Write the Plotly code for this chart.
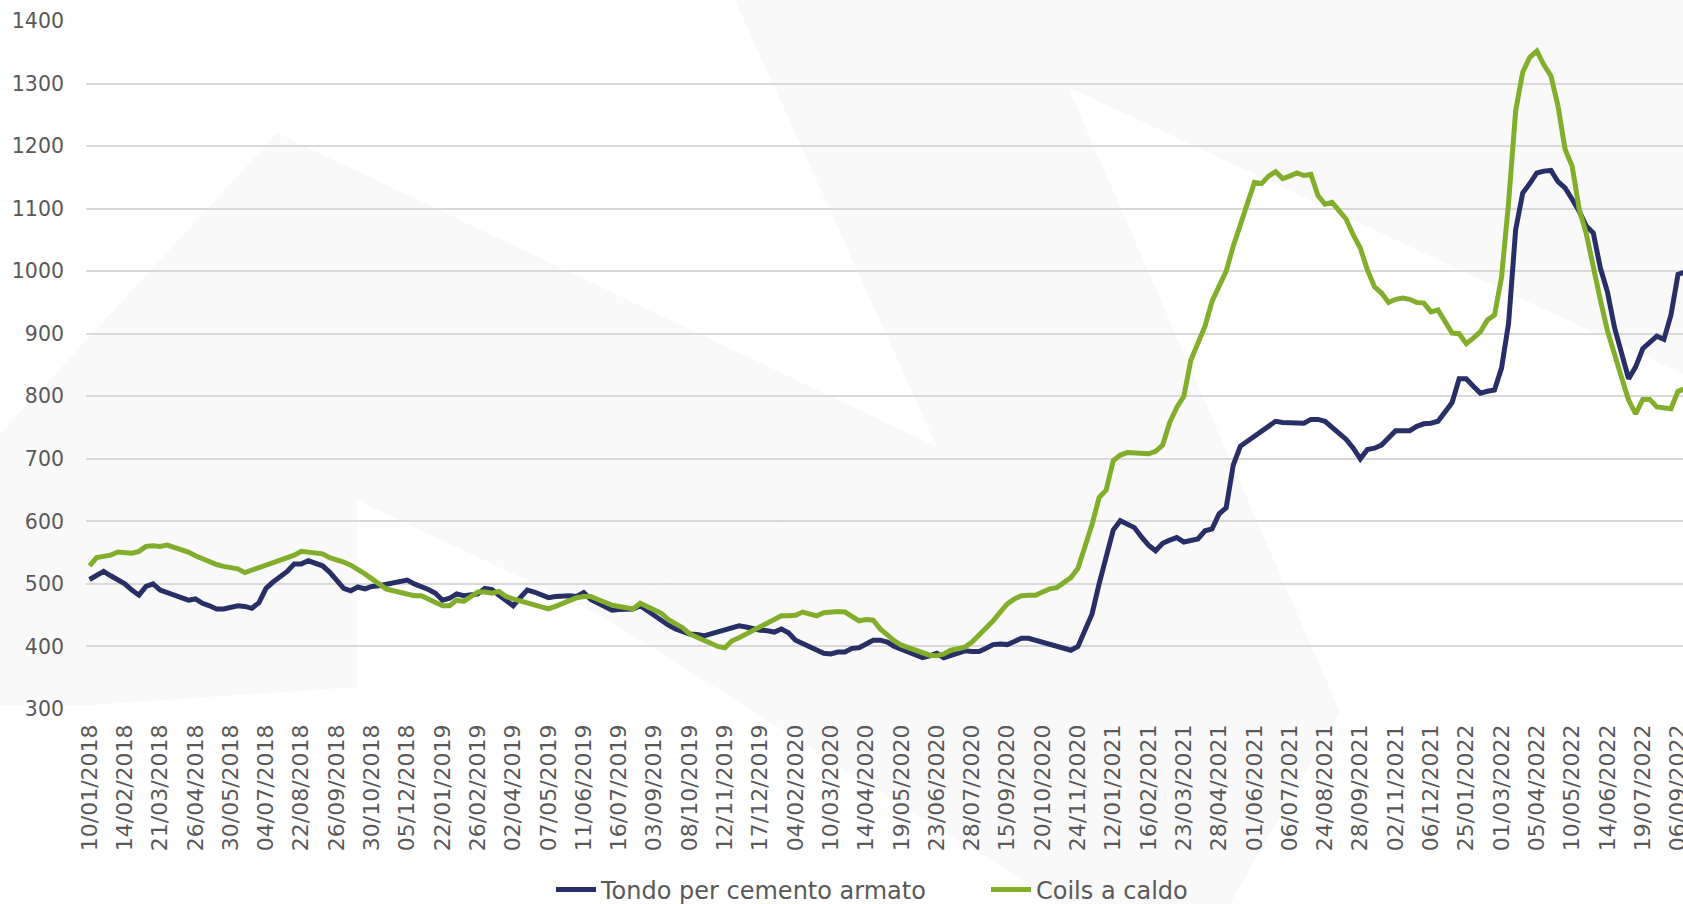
import plotly.graph_objects as go

tick_labels = [
    "10/01/2018", "14/02/2018", "21/03/2018", "26/04/2018", "30/05/2018", "04/07/2018",
    "22/08/2018", "26/09/2018", "30/10/2018", "05/12/2018", "22/01/2019", "26/02/2019",
    "02/04/2019", "07/05/2019", "11/06/2019", "16/07/2019", "03/09/2019", "08/10/2019",
    "12/11/2019", "17/12/2019", "04/02/2020", "10/03/2020", "14/04/2020", "19/05/2020",
    "23/06/2020", "28/07/2020", "15/09/2020", "20/10/2020", "24/11/2020", "12/01/2021",
    "16/02/2021", "23/03/2021", "28/04/2021", "01/06/2021", "06/07/2021", "24/08/2021",
    "28/09/2021", "02/11/2021", "06/12/2021", "25/01/2022", "01/03/2022", "05/04/2022",
    "10/05/2022", "14/06/2022", "19/07/2022", "06/09/2022",
]

tondo = [
    507, 514, 520, 513, 506, 500, 490, 482, 496, 500,
    490, 486, 481, 478, 474, 476, 469, 465, 460, 460,
    463, 465, 464, 461, 470, 493, 503, 511, 520, 532,
    532, 537, 533, 529, 519, 505, 493, 489, 495, 492,
    496, 497, 499, 502, 504, 506, 500, 496, 491, 485,
    474, 477, 484, 481, 482, 484, 493, 491, 482, 474,
    465, 478, 490, 487, 483, 478, 480, 481, 481, 480,
    486, 475, 469, 462, 458, 459, 460, 460, 465, 457,
    448, 441, 434, 428, 423, 420, 419, 417, 420, 423,
    426, 430, 433, 431, 428, 426, 425, 423, 428, 422,
    410, 405, 401, 394, 389, 388, 391, 391, 397, 398,
    404, 410, 410, 407, 400, 395, 390, 385, 382, 385,
    389, 382, 386, 390, 393, 392, 392, 397, 403, 404,
    403, 408, 413, 413, 410, 407, 405, 400, 397, 394,
    400, 425, 452, 500, 545, 586, 601, 596, 590, 575,
    562, 553, 565, 570, 574, 567, 570, 572, 585, 588,
    612, 622, 690, 720, 728, 736, 743, 752, 760, 758,
    758, 757, 757, 763, 763, 760, 750, 740, 731, 717,
    700, 715, 717, 722, 735, 745, 745, 745, 752, 756,
    757, 760, 775, 790, 828, 828, 816, 805, 808, 810,
    845, 917, 1066, 1125, 1140, 1157, 1160, 1161, 1143, 1133,
    1115, 1096, 1072, 1061, 1005, 967, 910, 865, 828, 847,
    876, 886, 896, 891, 930, 995, 999,
]

coils = [
    529, 542, 544, 546, 551, 551, 549, 552, 560, 561,
    560, 562, 559, 555, 551, 545, 540, 535, 531, 528,
    526, 524, 518, 522, 526, 529, 535, 538, 542, 546,
    552, 551, 550, 548, 542, 539, 535, 530, 524, 516,
    508, 500, 492, 489, 486, 484, 481, 481, 476, 470,
    465, 465, 474, 472, 480, 487, 487, 485, 488, 480,
    476, 473, 469, 466, 462, 460, 464, 469, 474, 478,
    480, 480, 475, 470, 466, 464, 461, 460, 469, 464,
    459, 453, 443, 437, 430, 420, 414, 410, 405, 400,
    398, 409, 414, 420, 425, 430, 437, 443, 449, 449,
    450, 455, 452, 449, 454, 455, 456, 455, 448, 441,
    443, 442, 428, 418, 409, 402, 398, 394, 390, 386,
    385, 388, 394, 397, 399, 407, 418, 430, 441, 455,
    468, 476, 481, 482, 482, 487, 492, 494, 502, 510,
    525, 560, 595, 638, 650, 697, 706, 710, 710, 709,
    708, 712, 722, 758, 782, 800, 858, 885, 912, 952,
    975, 1000, 1040, 1075, 1105, 1142, 1140, 1152, 1159, 1148,
    1152, 1157, 1153, 1155, 1121, 1107, 1110, 1096, 1083, 1058,
    1037, 1002, 975, 965, 950, 955, 957, 955, 950, 949,
    935, 938, 920, 901, 900, 884, 893, 903, 922, 930,
    990, 1110, 1256, 1318, 1342, 1352, 1330, 1312, 1264, 1195,
    1168, 1099, 1060, 1005, 954, 905, 865, 830, 794, 772,
    795, 795, 783, 782, 780, 808, 812,
]

y_ticks = [300, 400, 500, 600, 700, 800, 900, 1000, 1100, 1200, 1300, 1400]

series_names = ["Tondo per cemento armato", "Coils a caldo"]
series_colors = ["#272f66", "#82ae2c"]

# ---------------- layout geometry ----------------
W, H = 1683, 904
ML, MR, MT, MB = 86, 0, 21, 195
PW, PH = W - ML - MR, H - MT - MB
TICK_STEP = 5
x_idx = list(range(len(tondo)))

FONT = "DejaVu Sans"
TXT = "#595959"


def px(x, y):
    """pixel -> paper coordinates"""
    return (x - ML) / PW, (H - MB - y) / PH


def poly(points, color="#f9f9f9"):
    pts = [px(x, y) for x, y in points]
    d = "M " + " L ".join(f"{a:.4f},{b:.4f}" for a, b in pts) + " Z"
    return dict(type="path", path=d, xref="paper", yref="paper",
                fillcolor=color, line=dict(width=0), layer="below")


watermark = [
    poly([(735, 0), (1683, 0), (1683, 374), (1068, 87), (1340, 712),
          (1230, 904), (1060, 904), (600, 615), (937, 447)]),
    poly([(277, 133), (937, 447), (600, 615), (357, 500), (357, 687),
          (90, 705), (0, 705), (0, 434)]),
]

fig = go.Figure()
for name, vals, col in zip(series_names, [tondo, coils], series_colors):
    fig.add_trace(go.Scatter(
        x=x_idx, y=vals, mode="lines", name=name,
        line=dict(color=col, width=5),
    ))

fig.update_layout(
    width=W, height=H,
    margin=dict(l=ML, r=MR, t=MT, b=MB, pad=0, autoexpand=False),
    paper_bgcolor="white", plot_bgcolor="rgba(0,0,0,0)",
    font=dict(family=FONT, color=TXT, size=22),
    shapes=watermark,
    showlegend=True,
    legend=dict(
        orientation="h", x=px(551, 0)[0], xanchor="left",
        y=px(0, 890)[1], yanchor="middle",
        font=dict(family=FONT, size=24, color=TXT),
        bgcolor="rgba(0,0,0,0)", itemwidth=40, entrywidth=380,
        tracegroupgap=0,
    ),
    xaxis=dict(
        range=[-0.5, -0.5 + PW / 7.06],
        tickmode="array",
        tickvals=[i * TICK_STEP for i in range(len(tick_labels))],
        ticktext=tick_labels,
        tickangle=-90,
        tickfont=dict(family=FONT, size=22, color=TXT),
        showgrid=False, zeroline=False, showline=False, automargin=False,
        ticks="", ticklabelstandoff=10, ticklabeloverflow="allow",
    ),
    yaxis=dict(
        range=[300, 1400],
        tickmode="array", tickvals=y_ticks,
        tickfont=dict(family=FONT, size=20.5, color=TXT),
        showgrid=True, gridcolor="#d9d9d9", gridwidth=1.5, automargin=False,
        zeroline=False, showline=False, ticks="", ticklabelstandoff=21,
    ),
)

fig.write_html(
    "out.html",
    config={"displayModeBar": False},
    post_script="document.body.style.margin='0px';document.body.style.overflow='hidden';",
)
